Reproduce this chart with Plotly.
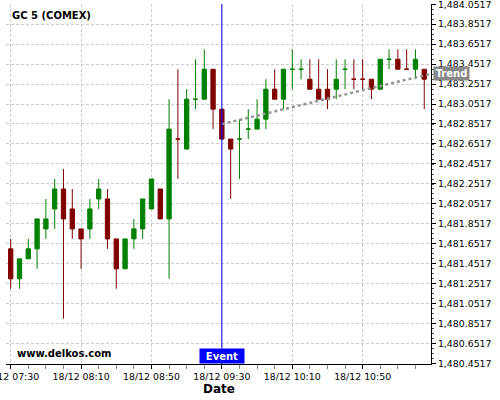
import plotly.graph_objects as go
import pandas as pd

# ---- data ----
start_time = "2014-12-18 07:30"
n_candles = 48
times = pd.date_range(start_time, periods=n_candles, freq="5min")

opens = [1481.6, 1481.3, 1481.5, 1481.6, 1481.8, 1482.0, 1482.2, 1482.0, 1481.8, 1481.8,
         1482.1, 1482.1, 1481.7, 1481.4, 1481.7, 1481.8, 1482.0, 1482.2, 1481.9, 1482.7,
         1482.6, 1483.1, 1483.1, 1483.4, 1483.0, 1482.7, 1482.7, 1482.8, 1482.8, 1482.9,
         1483.2, 1483.1, 1483.4, 1483.4, 1483.3, 1483.2, 1483.2, 1483.2, 1483.4, 1483.3,
         1483.3, 1483.3, 1483.2, 1483.5, 1483.5, 1483.4, 1483.4, 1483.4]
highs = [1481.7, 1481.5, 1481.7, 1481.9, 1482.1, 1482.3, 1482.4, 1482.2, 1481.8, 1482.1,
         1482.3, 1482.2, 1481.7, 1481.7, 1481.9, 1482.1, 1482.3, 1482.2, 1483.1, 1483.4,
         1483.2, 1483.5, 1483.6, 1483.4, 1483.0, 1482.7, 1482.9, 1483.0, 1483.1, 1483.3,
         1483.4, 1483.4, 1483.6, 1483.5, 1483.5, 1483.5, 1483.4, 1483.5, 1483.5, 1483.5,
         1483.5, 1483.3, 1483.5, 1483.6, 1483.6, 1483.6, 1483.6, 1483.4]
lows = [1481.2, 1481.2, 1481.5, 1481.4, 1481.7, 1481.8, 1480.9, 1481.7, 1481.4, 1481.7,
        1482.0, 1481.6, 1481.2, 1481.4, 1481.6, 1481.7, 1482.0, 1481.9, 1481.3, 1482.3,
        1482.6, 1483.0, 1483.1, 1482.8, 1482.7, 1482.1, 1482.3, 1482.7, 1482.8, 1482.8,
        1483.1, 1483.0, 1483.2, 1483.3, 1483.2, 1483.1, 1483.0, 1483.1, 1483.2, 1483.2,
        1483.2, 1483.1, 1483.2, 1483.4, 1483.4, 1483.4, 1483.3, 1483.0]
closes = [1481.3, 1481.5, 1481.6, 1481.9, 1481.9, 1482.2, 1481.9, 1481.8, 1481.7, 1482.0,
          1482.2, 1481.7, 1481.4, 1481.7, 1481.8, 1482.1, 1482.3, 1481.9, 1482.8, 1482.7,
          1483.1, 1483.1, 1483.4, 1483.0, 1482.7, 1482.6, 1482.7, 1482.8, 1482.9, 1483.2,
          1483.1, 1483.4, 1483.4, 1483.4, 1483.2, 1483.1, 1483.1, 1483.3, 1483.4, 1483.3,
          1483.3, 1483.2, 1483.5, 1483.5, 1483.4, 1483.4, 1483.5, 1483.3]

event_time = "2014-12-18 09:30"
trend_x = ["2014-12-18 09:30", "2014-12-18 11:28:50"]
trend_y = [1482.85, 1483.355]

x_range = ["2014-12-18 07:27:20", "2014-12-18 11:28:50"]
y_range = [1480.446, 1484.054]

title_text = "GC 5 (COMEX)"
source_text = "www.delkos.com"
x_title = "Date"

FONT = "DejaVu Sans"

fig = go.Figure()
fig.add_trace(go.Candlestick(
    x=times, open=opens, high=highs, low=lows, close=closes,
    increasing=dict(line=dict(color="#008000", width=1), fillcolor="#008000"),
    decreasing=dict(line=dict(color="#800000", width=1), fillcolor="#800000"),
    whiskerwidth=0, showlegend=False, hoverinfo="skip",
))
fig.add_trace(go.Scatter(
    x=trend_x, y=trend_y, mode="lines",
    line=dict(color="#959595", width=2.5, dash="dot"),
    showlegend=False, hoverinfo="skip",
))

fig.add_shape(type="line", xref="x", yref="paper", x0=event_time, x1=event_time,
              y0=0, y1=1, line=dict(color="#0000ff", width=1))

fig.add_annotation(x=event_time, xref="x", y=0, yref="paper", yanchor="bottom",
                   text="Event", showarrow=False, bgcolor="#0000ff",
                   font=dict(family=FONT, size=10, color="white", weight="bold"),
                   width=42, height=12, borderpad=1)
fig.add_annotation(x=1, xref="paper", xshift=2, y=trend_y[-1], yref="y",
                   xanchor="left", yanchor="middle",
                   text="Trend", showarrow=False, bgcolor="#888888",
                   font=dict(family=FONT, size=10, color="white", weight="bold"),
                   width=33, height=11, borderpad=1)
fig.add_annotation(x=0.0094, xref="paper", y=0.969, yref="paper",
                   xanchor="left", yanchor="middle", text=title_text, showarrow=False,
                   font=dict(family=FONT, size=10, color="black", weight="bold"))
fig.add_annotation(x=0.0212, xref="paper", y=0.028, yref="paper",
                   xanchor="left", yanchor="middle", text=source_text, showarrow=False,
                   font=dict(family=FONT, size=10, color="black", weight="bold"))
fig.add_annotation(x=0.5, xref="paper", y=-0.0694, yref="paper",
                   xanchor="center", yanchor="middle", text=x_title, showarrow=False,
                   font=dict(family=FONT, size=12, color="black", weight="bold"))

grid = dict(gridcolor="#cccccc", griddash="3px,2px", gridwidth=1)
fig.update_layout(
    width=500, height=400,
    margin=dict(l=6, r=69, t=4, b=36, pad=0, autoexpand=False),
    paper_bgcolor="white", plot_bgcolor="white",
    font=dict(family=FONT, size=9.4, color="black"),
    xaxis=dict(
        type="date", range=x_range, rangeslider=dict(visible=False), automargin=False,
        tick0="2014-12-18 07:30", dtick=40 * 60 * 1000, tickformat="%d/%m %H:%M",
        ticks="outside", ticklen=4, tickcolor="black", showline=True, linecolor="black",
        linewidth=1, showgrid=True, zeroline=False, ticklabeloverflow="allow",
        minor=dict(dtick=10 * 60 * 1000, ticks="outside", ticklen=4, tickcolor="#888888", showgrid=False),
        **grid,
    ),
    yaxis=dict(
        side="right", range=y_range, tick0=1480.4517, dtick=0.2, tickformat=",.4f",
        automargin=False, ticklabeloverflow="allow",
        ticks="outside", ticklen=4, tickcolor="black", showline=True, linecolor="black",
        linewidth=1, showgrid=True, zeroline=False,
        minor=dict(dtick=0.05, ticks="outside", ticklen=2, tickcolor="#555555", showgrid=False),
        **grid,
    ),
)

fig.write_html("out.html", config={"displayModeBar": False},
               post_script="document.body.style.margin='0';document.body.style.overflow='hidden';")
